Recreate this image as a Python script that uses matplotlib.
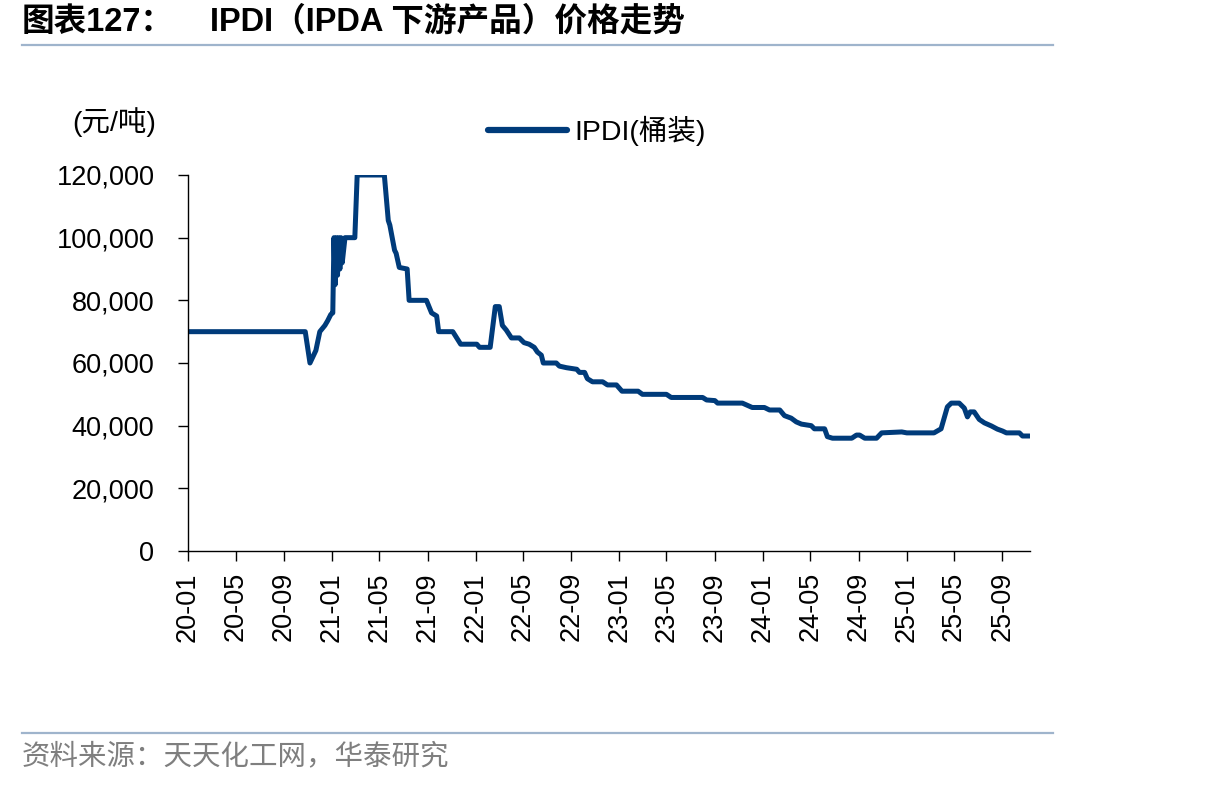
import matplotlib
matplotlib.use("Agg")
import matplotlib.pyplot as plt
import matplotlib.dates as mdates
import pandas as pd
from matplotlib.lines import Line2D

plt.rcParams['font.family'] = ['Liberation Sans', 'Noto Sans CJK SC', 'DejaVu Sans']

dates = [
    "2020-01-01", "2020-10-25", "2020-11-06", "2020-11-21", "2020-12-01", "2020-12-14",
    "2020-12-21", "2020-12-29", "2021-01-03", "2021-01-06", "2021-01-09", "2021-01-12",
    "2021-01-15", "2021-01-18", "2021-01-21", "2021-01-24", "2021-01-27", "2021-02-03",
    "2021-02-28", "2021-03-06", "2021-05-14", "2021-05-24", "2021-05-28", "2021-06-09",
    "2021-06-13", "2021-06-21", "2021-07-11", "2021-07-16", "2021-08-29", "2021-09-11",
    "2021-09-24", "2021-09-29", "2021-11-04", "2021-11-14", "2021-11-24", "2022-01-04",
    "2022-01-11", "2022-02-07", "2022-02-20", "2022-03-02", "2022-03-10", "2022-03-20",
    "2022-04-02", "2022-04-22", "2022-05-04", "2022-05-17", "2022-05-30", "2022-06-07",
    "2022-06-17", "2022-06-22", "2022-07-25", "2022-08-02", "2022-08-20", "2022-09-15",
    "2022-09-22", "2022-10-05", "2022-10-12", "2022-10-25", "2022-11-20", "2022-12-02",
    "2022-12-25", "2023-01-08", "2023-02-18", "2023-03-01", "2023-05-01", "2023-05-13",
    "2023-08-01", "2023-08-11", "2023-09-01", "2023-09-08", "2023-11-10", "2023-12-05",
    "2024-01-05", "2024-01-18", "2024-02-13", "2024-02-25", "2024-03-13", "2024-03-26",
    "2024-04-08", "2024-05-03", "2024-05-11", "2024-06-06", "2024-06-13", "2024-06-26",
    "2024-08-14", "2024-08-26", "2024-09-03", "2024-09-16", "2024-10-16", "2024-10-29",
    "2024-12-19", "2025-01-01", "2025-03-11", "2025-03-29", "2025-04-14", "2025-04-24",
    "2025-05-14", "2025-05-27", "2025-06-04", "2025-06-11", "2025-06-21", "2025-07-04",
    "2025-07-17", "2025-08-04", "2025-08-19", "2025-09-01", "2025-09-11", "2025-10-14",
    "2025-10-22", "2025-11-09",
]
prices = [
    70000, 70000, 60000, 64000, 70000, 72000,
    73500, 75500, 76000, 100000, 85000, 100000,
    88000, 100000, 90000, 100000, 92000, 100000,
    100000, 120000, 120000, 105500, 104000, 96000,
    95000, 90500, 90000, 80000, 80000, 76000,
    75000, 70000, 70000, 68000, 66000, 66000,
    65000, 65000, 78000, 78000, 72000, 70500,
    68000, 68000, 66500, 66000, 65000, 63500,
    62500, 60000, 60000, 59000, 58500, 58000,
    57000, 57000, 55000, 54000, 54000, 53000,
    53000, 51000, 51000, 50000, 50000, 49000,
    49000, 48200, 48000, 47200, 47200, 45800,
    45800, 45000, 45000, 43200, 42400, 41200,
    40500, 40000, 39000, 39000, 36500, 36000,
    36000, 37000, 37000, 36000, 36000, 37700,
    38000, 37700, 37700, 39000, 46000, 47200,
    47200, 45600, 42800, 44400, 44400, 42000,
    40900, 39900, 38900, 38300, 37700, 37700,
    36700, 36700,
]
series_name = "IPDI(桶装)"
unit_label = "(元/吨)"
title_left = "图表127："
title_right = "IPDI（IPDA 下游产品）价格走势"
source_text = "资料来源：天天化工网，华泰研究"
y_ticks = [0, 20000, 40000, 60000, 80000, 100000, 120000]

x = pd.to_datetime(dates)
color = '#003B7A'

fig = plt.figure(figsize=(12.06, 7.87), dpi=100)
ax = fig.add_axes([188/1206, 1-551/787, (1030-188)/1206, (551-175)/787])
ax.plot(x, prices, color=color, lw=3.6, solid_joinstyle='round', solid_capstyle='round')

ax.set_ylim(0, 120000)
ax.set_yticks(y_ticks)
ax.set_yticklabels([f"{v:,}" for v in y_ticks])
ax.set_xlim(pd.Timestamp("2020-01-01"), pd.Timestamp("2025-11-10"))
ax.xaxis.set_major_locator(mdates.MonthLocator(bymonth=[1, 5, 9]))
ax.xaxis.set_major_formatter(mdates.DateFormatter("%y-%m"))
for lab in ax.get_xticklabels():
    lab.set_rotation(90)
ax.tick_params(axis='both', labelsize=19.5, direction='out', length=7.2, width=1, colors='black')
ax.tick_params(axis='y', pad=17)
ax.tick_params(axis='x', pad=8)
ax.spines['top'].set_visible(False)
ax.spines['right'].set_visible(False)
for s in ['left', 'bottom']:
    ax.spines[s].set_linewidth(1)
    ax.spines[s].set_color('black')

# legend
handle = Line2D([], [], color=color, lw=4.5, solid_capstyle='round')
fig.legend([handle], [series_name], loc='center left', bbox_to_anchor=(477/1206, 1-131/787),
           frameon=False, fontsize=20.5, handlelength=2.75, handletextpad=0.28, borderaxespad=0)

fig.text(72/1206, 1-122/787, unit_label, fontsize=20.5, va='center', ha='left')

fig.text(22/1206, 1-22/787, title_left, fontsize=23.5, fontweight='bold', va='center', ha='left')
fig.text(210/1206, 1-22/787, title_right, fontsize=23.5, fontweight='bold', va='center', ha='left')
fig.add_artist(Line2D([22/1206, 1053/1206], [1-45/787, 1-45/787], color='#9FB4CC', lw=1.6))
fig.add_artist(Line2D([22/1206, 1053/1206], [1-733/787, 1-733/787], color='#9FB4CC', lw=1.6))
fig.text(22/1206, 1-757/787, source_text, fontsize=20.5, color='#7F7F7F', va='center', ha='left')

fig.savefig("out.png", dpi=100)
